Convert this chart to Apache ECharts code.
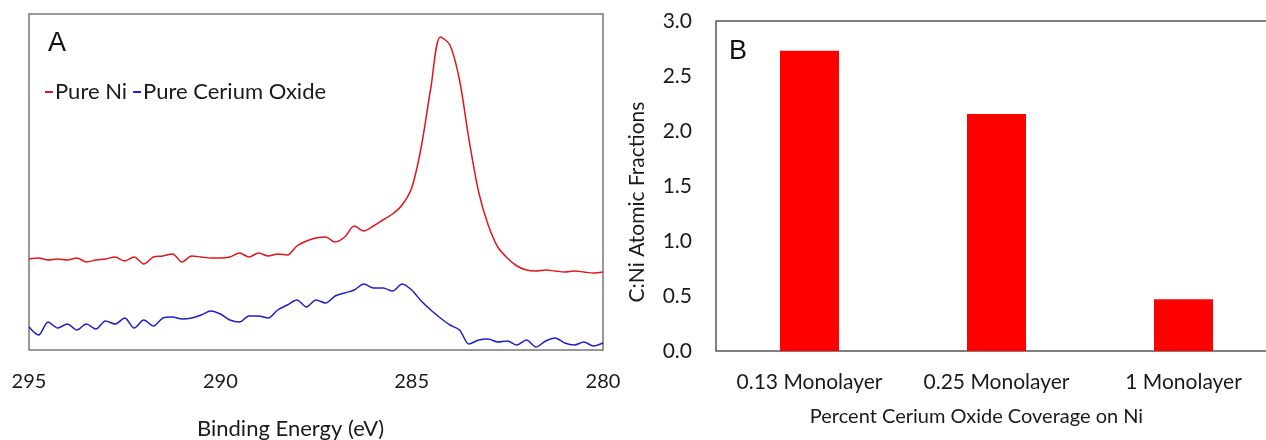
<!DOCTYPE html>
<html><head><meta charset="utf-8">
<script src="https://cdn.jsdelivr.net/npm/echarts@6/dist/echarts.min.js"></script>
<style>html,body{margin:0;padding:0;background:#fff}#c{width:1266px;height:440px}</style>
</head><body><div id="c"></div>
<script>
// Panel A: binding energy (eV) and intensities (arbitrary units)
const energy = [295,294.75,294.5,294.25,294,293.75,293.5,293.25,293,292.75,292.5,292.25,292,291.75,291.5,291.25,291,290.75,290.5,290.25,290,289.75,289.5,289.25,289,288.75,288.5,288.25,288,287.75,287.5,287.25,287,286.75,286.5,286.25,286,285.75,285.5,285.25,285,284.75,284.5,284.25,284,283.75,283.5,283.25,283,282.75,282.5,282.25,282,281.75,281.5,281.25,281,280.75,280.5,280.25,280];
const pureNi = [91,92,90,91,90,92,88,90,91,93,89,93,86,93,94,96,88,94,93,92,92,93,97,93,97,94,96,95,104,109,112,113,108,113,124,119,124,130,136,145,162,203,262,313,305,270,210,158,125,103,92,84,80,79,80,79,78,79,78,77,78];
const pureCeO = [23,15,28,22,26,20,26,21,29,26,32,22,30,24,32,33,31,32,35,39,36,30,28,34,34,32,40,45,50,43,50,47,54,57,60,66,62,62,59,66,60,49,40,32,25,20,6,10,11,8,9,5,10,3,9,12,7,5,8,4,7];
const energyTicks = [295,290,285,280];

// Panel B
const coverage = ['0.13 Monolayer','0.25 Monolayer','1 Monolayer'];
const cniFraction = [2.73,2.155,0.47];

const FONT = 'Lato';
const chart = echarts.init(document.getElementById('c'));
chart.setOption({
  animation:false,
  backgroundColor:'#fff',
  textStyle:{fontFamily:FONT,color:'#1a1a1a'},
  legend:{
    left:40, top:76, itemGap:6, itemWidth:8, itemHeight:2, icon:'rect',
    textStyle:{fontFamily:FONT,fontSize:22,color:'#1a1a1a',padding:[0,0,0,-3]},
    data:['Pure Ni','Pure Cerium Oxide']
  },
  graphic:[
    {type:'text',left:48,top:30,style:{text:'A',font:'27px "Liberation Sans"',fill:'#111'}},
    {type:'text',left:729,top:38,style:{text:'B',font:'27px "Liberation Sans"',fill:'#111'}},
    {type:'text',left:197,top:418,style:{text:'Binding Energy (eV)',font:'22px Lato',fill:'#1a1a1a'}}
  ],
  grid:[
    {left:29,top:14,width:574,bottom:90,outerBoundsMode:'none',show:true,borderColor:'#777',borderWidth:1.5,backgroundColor:'transparent'},
    {left:716,top:21,width:561,bottom:89,outerBoundsMode:'none',containLabel:false,show:true,borderColor:'#555',borderWidth:1.5,backgroundColor:'transparent'}
  ],
  xAxis:[
    {type:'value',gridIndex:0,min:280,max:295,interval:5,inverse:true,
     axisLine:{show:false},axisTick:{show:false},splitLine:{show:false},
     axisLabel:{margin:22,fontSize:20,color:'#1a1a1a',fontFamily:FONT,
       formatter:v=>energyTicks.includes(v)?String(v):''}},
    {type:'category',gridIndex:1,data:coverage,
     axisLine:{show:false},axisTick:{show:false},
     axisLabel:{interval:0,margin:21,fontSize:21,color:'#1a1a1a',fontFamily:FONT},
     name:'Percent Cerium Oxide Coverage on Ni',nameLocation:'middle',nameGap:56,
     nameTextStyle:{fontSize:20,color:'#1a1a1a',fontFamily:FONT,padding:[0,40,0,0]}}
  ],
  yAxis:[
    {type:'value',gridIndex:0,min:0,max:336,show:false,splitLine:{show:false}},
    {type:'value',gridIndex:1,min:0,max:3,interval:0.5,
     axisLine:{show:false},axisTick:{show:false},splitLine:{show:false},
     axisLabel:{margin:24,fontSize:21,color:'#1a1a1a',fontFamily:FONT,formatter:v=>v.toFixed(1)},
     name:'C:Ni Atomic Fractions',nameLocation:'middle',nameGap:68,
     nameTextStyle:{fontSize:21,color:'#1a1a1a',fontFamily:FONT,padding:[0,32,0,0]}}
  ],
  series:[
    {name:'Pure Ni',type:'line',xAxisIndex:0,yAxisIndex:0,showSymbol:false,smooth:0.3,
     data:energy.map((e,i)=>[e,pureNi[i]]),lineStyle:{color:'#e0161c',width:1.5},itemStyle:{color:'#e0161c'}},
    {name:'Pure Cerium Oxide',type:'line',xAxisIndex:0,yAxisIndex:0,showSymbol:false,smooth:0.3,
     data:energy.map((e,i)=>[e,pureCeO[i]]),lineStyle:{color:'#1f1fc8',width:1.5},itemStyle:{color:'#1f1fc8'}},
    {name:'C:Ni',type:'bar',xAxisIndex:1,yAxisIndex:1,data:cniFraction,barWidth:59,
     itemStyle:{color:'#ff0000'}}
  ]
});
</script></body></html>
